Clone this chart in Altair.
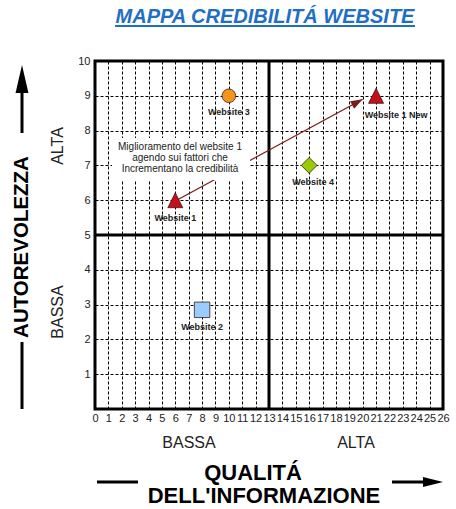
import math
import altair as alt
import pandas as pd

# ---------------- data ----------------
names = ["Website 1", "Website 1 New", "Website 2", "Website 3", "Website 4"]
qualita = [6, 21, 8, 10, 16]            # x: QUALITÁ DELL'INFORMAZIONE
autorevolezza = [6, 9, 2.85, 9, 7]      # y: AUTOREVOLEZZA
kinds = ["triangle", "triangle", "square", "circle", "diamond"]

x_ticks = list(range(0, 27))
y_ticks = list(range(1, 11))
x_split = [13]
y_split = [5]

arrow_from = [6.1, 6.0]
arrow_to = [20.0, 8.9]

note_lines = ["Miglioramento del website 1", "agendo sui fattori che", "Incrementano la credibilità"]
note_at = [6.35, 7.54]                 # first line anchor
note_box = [1.27, 11.58, 6.58, 7.79]   # x, x2, y, y2

# ---------------- styles ----------------
W, H = 348, 348
TRI = "M0,-1L1,1L-1,1Z"
style = {
    "triangle": dict(shape=TRI, fill="#c3101b", size=225),
    "square": dict(shape="square", fill="#99ccff", size=240),
    "circle": dict(shape="circle", fill="#f7941d", size=185),
    "diamond": dict(shape="diamond", fill="#99cc00", size=250),
}
label_off = {
    "Website 1": (0, 18),
    "Website 1 New": (20, 19),
    "Website 2": (0, 17),
    "Website 3": (0, 16),
    "Website 4": (4, 17),
}
FONT = "Liberation Sans, Arial, sans-serif"

xscale = alt.Scale(domain=[0, 26], nice=False, zero=False)
yscale = alt.Scale(domain=[0, 10], nice=False, zero=False)
xaxis = alt.Axis(values=x_ticks, grid=True, gridDash=[3, 2], gridColor="#000", gridWidth=1,
                 gridOpacity=1, domain=False, ticks=False, labelFontSize=11, labelPadding=3,
                 labelColor="#222", labelFont=FONT, title=None, labelAngle=0,
                 labelFlush=False, labelOverlap=False)
yaxis = alt.Axis(values=y_ticks, grid=True, gridDash=[3, 2], gridColor="#000", gridWidth=1,
                 gridOpacity=1, domain=False, ticks=False, labelFontSize=11, labelPadding=5,
                 labelColor="#222", labelFont=FONT, title=None,
                 labelFlush=False, labelOverlap=False)


def X(f="x"):
    return alt.X(f"{f}:Q", scale=xscale, axis=xaxis)


def Y(f="y"):
    return alt.Y(f"{f}:Q", scale=yscale, axis=yaxis)


pts = pd.DataFrame({
    "name": names, "x": qualita, "y": autorevolezza,
    "shape": [style[k]["shape"] for k in kinds],
    "fill": [style[k]["fill"] for k in kinds],
    "size": [style[k]["size"] for k in kinds],
})

one = pd.DataFrame({"d": [0]})

vrule = alt.Chart(pd.DataFrame({"x": x_split})).mark_rule(color="black", strokeWidth=3).encode(x=X())
hrule = alt.Chart(pd.DataFrame({"y": y_split})).mark_rule(color="black", strokeWidth=3).encode(y=Y())

arr = pd.DataFrame({"x": [arrow_from[0]], "y": [arrow_from[1]], "x2": [arrow_to[0]], "y2": [arrow_to[1]]})
arrow_line = alt.Chart(arr).mark_rule(color="#7a1c1c", strokeWidth=1.3).encode(
    x=X(), y=Y(), x2="x2:Q", y2="y2:Q")

dxp = (arrow_to[0] - arrow_from[0]) * W / 26
dyp = (arrow_to[1] - arrow_from[1]) * H / 10
ang = math.degrees(math.atan2(dxp, dyp))
head = pd.DataFrame({"x": [arrow_to[0]], "y": [arrow_to[1]]})
arrow_head = alt.Chart(head).mark_point(shape="M0,0L0.7,2L-0.7,2Z", size=144, filled=True,
                                        color="#7a1c1c", opacity=1, angle=ang).encode(x=X(), y=Y())

box = pd.DataFrame({"x": [note_box[0]], "x2": [note_box[1]], "y": [note_box[2]], "y2": [note_box[3]]})
note_bg = alt.Chart(box).mark_rect(color="white").encode(x=X(), x2="x2:Q", y=Y(), y2="y2:Q")

note = alt.Chart(pd.DataFrame({"x": [note_at[0]], "y": [note_at[1]]})).mark_text(
    text=note_lines, font=FONT, fontSize=10, lineHeight=11, color="#222",
    align="center", baseline="middle").encode(x=X(), y=Y())

points = alt.Chart(pts).mark_point(filled=True, opacity=1, stroke="#3a1a1a", strokeWidth=0.8).encode(
    x=X(), y=Y(),
    shape=alt.Shape("shape:N", scale=None),
    fill=alt.Fill("fill:N", scale=None),
    size=alt.Size("size:Q", scale=None),
)

labels = []
for n in names:
    dx, dy = label_off[n]
    labels.append(
        alt.Chart(pts[pts["name"] == n]).mark_text(
            font=FONT, fontSize=9, fontWeight="bold", color="#222", dx=dx, dy=dy,
            align="center", baseline="middle").encode(x=X(), y=Y(), text="name:N")
    )


def txt(s, x, y, **kw):
    return alt.Chart(one).mark_text(text=s, **kw).encode(x=alt.value(x), y=alt.value(y))


def seg(x, y, x2=None, y2=None, **kw):
    enc = dict(x=alt.value(x), y=alt.value(y))
    if x2 is not None:
        enc["x2"] = alt.value(x2)
    if y2 is not None:
        enc["y2"] = alt.value(y2)
    return alt.Chart(one).mark_rule(**kw).encode(**enc)


def head_mark(x, y, angle, size, path):
    return alt.Chart(one).mark_point(shape=path, size=size, filled=True, color="black",
                                     opacity=1, angle=angle).encode(x=alt.value(x), y=alt.value(y))


title = txt("MAPPA CREDIBILITÁ WEBSITE", 170, -38, font=FONT, fontSize=20, fontWeight="bold",
            fontStyle="italic", color="#1f6fc5", align="center", baseline="alphabetic")
underline = seg(20, -35, x2=320, color="#1f6fc5", strokeWidth=2)

y_title = txt("AUTOREVOLEZZA", -73, 186, font=FONT, fontSize=20.5, fontWeight="bold",
              color="black", angle=270, align="center", baseline="middle")
y_low = seg(-73, 281, y2=348, color="black", strokeWidth=3)
y_up = seg(-73, 72, y2=30, color="black", strokeWidth=3)
y_head = head_mark(-73, 4, 0, 784, "M0,0L0.46,2L-0.46,2Z")

y_alta = txt("ALTA", -37, 85, font=FONT, fontSize=16, color="#222", angle=270,
             align="center", baseline="middle")
y_bassa = txt("BASSA", -37, 251, font=FONT, fontSize=16, color="#222", angle=270,
              align="center", baseline="middle")

x_bassa = txt("BASSA", 94, 382, font=FONT, fontSize=16, color="#222", align="center", baseline="middle")
x_alta = txt("ALTA", 261, 382, font=FONT, fontSize=16, color="#222", align="center", baseline="middle")

x_t1 = txt("QUALITÁ", 158, 419, font=FONT, fontSize=22, fontWeight="bold", color="black",
           align="center", baseline="alphabetic")
x_t2 = txt("DELL'INFORMAZIONE", 169, 442, font=FONT, fontSize=22, fontWeight="bold", color="black",
           align="center", baseline="alphabetic")
x_left = seg(2, 421, x2=43, color="black", strokeWidth=3)
x_right = seg(297, 421, x2=330, color="black", strokeWidth=3)
x_head = head_mark(348, 421, 90, 400, "M0,0L0.5,2L-0.5,2Z")

chart = alt.layer(
    vrule, hrule, arrow_line, note_bg, note, points, *labels, arrow_head,
    title, underline, y_title, y_low, y_up, y_head, y_alta, y_bassa,
    x_bassa, x_alta, x_t1, x_t2, x_left, x_right, x_head,
).properties(
    width=W, height=H,
    padding={"left": 95, "top": 61, "right": 13, "bottom": 100},
    autosize=alt.AutoSizeParams(type="none"),
    background="white",
).configure_view(stroke="black", strokeWidth=3)

chart.save("out.html", embed_options={"renderer": "svg", "actions": False})
